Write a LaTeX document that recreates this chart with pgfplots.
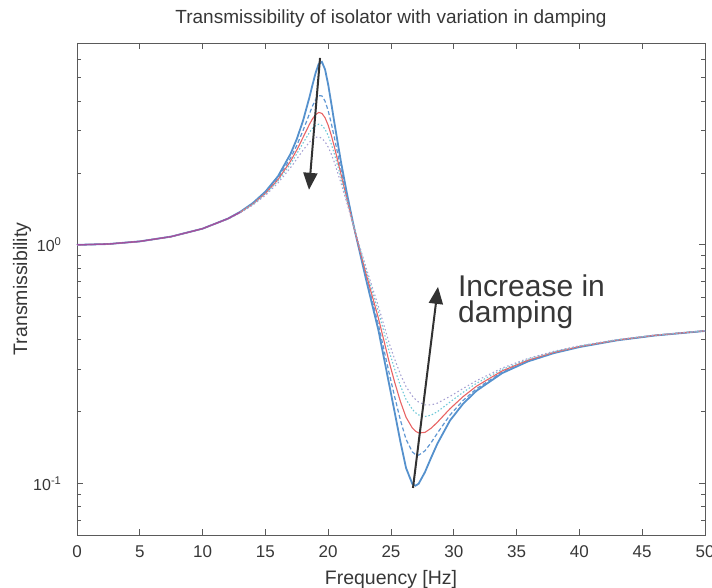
\documentclass[border=0pt]{standalone}
\usepackage{fontspec}
\setmainfont{Liberation Sans}
\usepackage{pgfplots}
\usepackage{pgfplotstable}
\pgfplotsset{compat=1.18}
\usetikzlibrary{arrows.meta}
\definecolor{cA}{RGB}{85,145,205}
\definecolor{cB}{RGB}{95,150,210}
\definecolor{cC}{RGB}{232,100,100}
\definecolor{cD}{RGB}{110,200,215}
\definecolor{cE}{RGB}{165,160,210}
\definecolor{cP}{RGB}{160,80,160}
\definecolor{txt}{RGB}{55,55,55}
\definecolor{axc}{RGB}{90,90,90}
\definecolor{arr}{RGB}{50,50,50}

\pgfplotstableread{
f     c1     c2     c3     c4     c5
0     1.000  1.000  1.000  1.000  1.000
2.5   1.008  1.008  1.008  1.008  1.008
5     1.034  1.034  1.034  1.034  1.033
7.5   1.083  1.083  1.082  1.082  1.082
10    1.169  1.169  1.169  1.169  1.170
12    1.287  1.286  1.285  1.283  1.281
13    1.375  1.372  1.369  1.366  1.361
14    1.496  1.488  1.482  1.478  1.468
15    1.670  1.654  1.641  1.632  1.612
16    1.936  1.903  1.875  1.852  1.815
17    2.403  2.307  2.239  2.183  2.104
17.5  2.773  2.609  2.496  2.406  2.288
18    3.315  3.013  2.819  2.670  2.492
18.5  4.135  3.531  3.191  2.950  2.691
18.75 4.673  3.811  3.370  3.074  2.769
19    5.255  4.060  3.512  3.164  2.820
19.25 5.730  4.214  3.584  3.199  2.831
19.5  5.834  4.203  3.552  3.162  2.792
19.75 5.423  3.997  3.406  3.047  2.702
20    4.684  3.642  3.166  2.866  2.566
20.25 3.903  3.219  2.871  2.640  2.397
20.5  3.227  2.799  2.561  2.396  2.208
21    2.250  2.089  1.993  1.923  1.827
21.5  1.632  1.575  1.545  1.527  1.488
22    1.221  1.208  1.209  1.216  1.208
23    0.7215 0.7387 0.7616 0.7887 0.8071
24    0.4387 0.4633 0.4927 0.5254 0.5521
24.85 0.2613 0.2906 0.3238 0.3589 0.3885
25.3  0.1983 0.2303 0.2651 0.3011 0.3312
25.75 0.1498 0.1846 0.2208 0.2571 0.2872
26.2  0.1163 0.1532 0.1897 0.2254 0.2548
26.7  0.0998 0.1359 0.1710 0.2049 0.2328
26.95 0.0981 0.1324 0.1659 0.1984 0.2253
27.2  0.1000 0.1317 0.1632 0.1941 0.2197
27.7  0.1117 0.1372 0.1640 0.1911 0.2139
28.2  0.1287 0.1487 0.1708 0.1938 0.2137
28.7  0.1474 0.1631 0.1811 0.2004 0.2175
29.7  0.1840 0.1940 0.2061 0.2197 0.2321
30.75 0.2165 0.2234 0.2318 0.2416 0.2507
31.8  0.2448 0.2497 0.2559 0.2631 0.2698
33.85 0.2904 0.2932 0.2967 0.3010 0.3051
35.9  0.3250 0.3268 0.3290 0.3318 0.3344
37.95 0.3520 0.3532 0.3547 0.3566 0.3583
40    0.3734 0.3743 0.3754 0.3767 0.3780
43    0.3984 0.3989 0.3996 0.4004 0.4013
46    0.4172 0.4175 0.4181 0.4186 0.4192
50    0.4360 0.4363 0.4366 0.4369 0.4373
}\damping

\pgfplotstableread{
f     t
0     1.000
2.5   1.008
5     1.034
7.5   1.083
10    1.169
12    1.286
13    1.370
}\lowfreq

\begin{document}
\begin{tikzpicture}
\useasboundingbox (-77pt,-53pt) rectangle (635pt,535pt);
\begin{axis}[
  at={(0pt,0pt)}, anchor=south west,
  scale only axis, width=628pt, height=492pt,
  xmin=0, xmax=50, ymode=log, ymin=0.061, ymax=7,
  xtick={0,5,...,50},
  ytick={0.1,1},
  yticklabels={10\textsuperscript{-1},10\textsuperscript{0}},
  minor ytick={0.07,0.08,0.09,0.2,0.3,0.4,0.5,0.6,0.7,0.8,0.9,2,3,4,5,6},
  tick pos=both, tick align=inside,
  major tick length=6pt, minor tick length=4pt,
  /pgf/number format/assume math mode=true,
  axis line style={draw=axc, line width=0.9pt},
  every tick/.style={draw=axc, line width=0.9pt},
  xticklabel style={font=\fontsize{17}{17}\selectfont, text=txt, anchor=base, yshift=-22pt},
  yticklabel style={font=\fontsize{16}{16}\selectfont, text=txt, anchor=base east, xshift=-12pt, yshift=-7pt},
  title={Transmissibility of isolator with variation in damping},
  title style={font=\fontsize{19}{19}\selectfont, text=txt, at={(axis description cs:0.5,1.0275)}, anchor=base},
  xlabel={Frequency [Hz]},
  xlabel style={font=\fontsize{19.5}{19.5}\selectfont, text=txt, at={(axis description cs:0.5,-0.0996)}, anchor=base},
  ylabel={Transmissibility},
  ylabel style={font=\fontsize{19.5}{19.5}\selectfont, text=txt, at={(axis description cs:-0.0796,0.5)}, anchor=base},
  clip=true,
]
\addplot[cA, line width=1.8pt] table[x=f, y=c1] {\damping};
\addplot[cB, line width=1.2pt, dash pattern=on 4pt off 2.5pt] table[x=f, y=c2] {\damping};
\addplot[cC, line width=1.1pt] table[x=f, y=c3] {\damping};
\addplot[cD, line width=1.1pt, dash pattern=on 1.5pt off 2pt] table[x=f, y=c4] {\damping};
\addplot[cE, line width=1.1pt, dash pattern=on 1.5pt off 2.5pt] table[x=f, y=c5] {\damping};
\addplot[cP, line width=1.3pt] table[x=f, y=t] {\lowfreq};

\draw[arr, line width=2pt, -{Triangle[length=17pt, width=14pt]}] (axis cs:19.35,6.06) -- (axis cs:18.47,1.70);
\draw[arr, line width=2pt, -{Triangle[length=17pt, width=14pt]}] (axis cs:26.75,0.096) -- (axis cs:28.74,0.667);
\node[anchor=base west, inner sep=0pt, align=left, text=txt, font=\fontsize{30}{26.5}\selectfont] at (axis cs:30.33,0.471) {Increase in\\damping};
\end{axis}
\end{tikzpicture}
\end{document}
